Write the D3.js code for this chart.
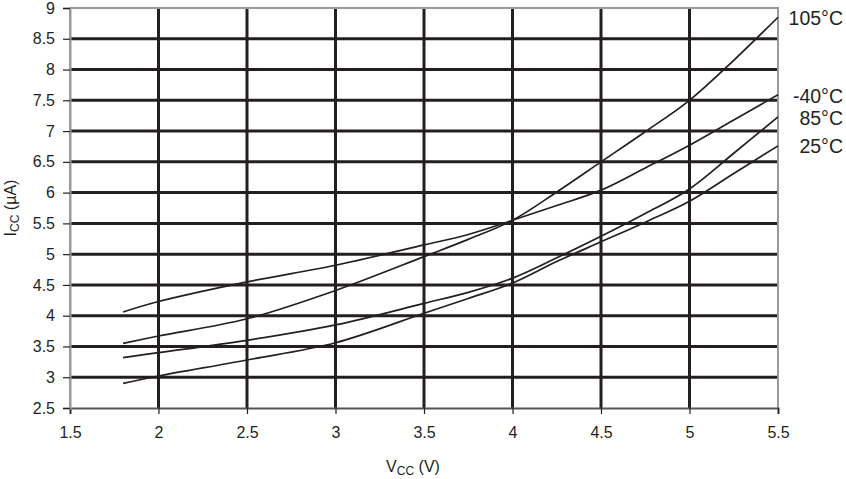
<!DOCTYPE html>
<html>
<head>
<meta charset="utf-8">
<script src="https://cdn.jsdelivr.net/npm/d3@7"></script>
<style>
  body { margin: 0; background: #fff; }
  text { font-family: "Liberation Sans", Arial, sans-serif; fill: #231f20; }
</style>
</head>
<body>
<script>
// supply voltage points (V)
const vcc = [1.8, 2, 2.5, 3, 3.5, 3.75, 4, 4.25, 4.5, 4.75, 5, 5.25, 5.5];

// supply current (uA) per temperature
const iccM40 = [4.06, 4.23, 4.55, 4.82, 5.15, 5.32, 5.55, 5.79, 6.04, 6.40, 6.77, 7.18, 7.59];
const icc105 = [3.55, 3.67, 3.95, 4.41, 4.96, 5.24, 5.55, 6.01, 6.50, 6.99, 7.50, 8.15, 8.85];
const icc85  = [3.32, 3.40, 3.60, 3.85, 4.20, 4.38, 4.61, 4.94, 5.29, 5.66, 6.06, 6.64, 7.23];
const icc25  = [2.90, 3.02, 3.28, 3.56, 4.04, 4.28, 4.53, 4.88, 5.20, 5.52, 5.86, 6.31, 6.76];

const seriesNames = ["105°C", "-40°C", "85°C", "25°C"];
const seriesValues = [icc105, iccM40, icc85, icc25];

const xTicks = [1.5, 2, 2.5, 3, 3.5, 4, 4.5, 5, 5.5];
const yTicks = [2.5, 3, 3.5, 4, 4.5, 5, 5.5, 6, 6.5, 7, 7.5, 8, 8.5, 9];

const width = 846, height = 479;
const margin = {left: 70, right: 68, top: 8, bottom: 71};

const svg = d3.select("body").append("svg")
  .attr("width", width)
  .attr("height", height);

const x = d3.scaleLinear().domain([1.5, 5.5]).range([margin.left, width - margin.right]);
const y = d3.scaleLinear().domain([2.5, 9]).range([height - margin.bottom, margin.top]);

const ink = "#231f20";

// grid
svg.append("g")
  .selectAll("line.h")
  .data(yTicks.filter(d => d > 2.5 && d < 9))
  .enter().append("line")
  .attr("x1", x(1.5)).attr("x2", x(5.5))
  .attr("y1", d => y(d)).attr("y2", d => y(d))
  .attr("stroke", ink).attr("stroke-width", 3);

svg.append("g")
  .selectAll("line.v")
  .data(xTicks.filter(d => d > 1.5 && d < 5.5))
  .enter().append("line")
  .attr("y1", y(2.5)).attr("y2", y(9))
  .attr("x1", d => x(d)).attr("x2", d => x(d))
  .attr("stroke", ink).attr("stroke-width", 3);

// frame (top, right, left in grey)
svg.append("path")
  .attr("d", `M${x(1.5)},${y(2.5)}V${y(9)}H${x(5.5)}V${y(2.5)}`)
  .attr("fill", "none")
  .attr("stroke", "#9a9a9a")
  .attr("stroke-width", 2);

// axes
const xAxis = svg.append("g")
  .attr("transform", `translate(0,${y(2.5)})`)
  .call(d3.axisBottom(x).tickValues(xTicks).tickFormat(d3.format("")).tickSize(6).tickPadding(13));
const yAxis = svg.append("g")
  .attr("transform", `translate(${x(1.5)},0)`)
  .call(d3.axisLeft(y).tickValues(yTicks).tickFormat(d3.format("")).tickSize(7).tickPadding(8));

[xAxis, yAxis].forEach(a => {
  a.selectAll("text").style("font-size", "16px").attr("fill", ink);
  a.selectAll(".tick line").attr("stroke", ink).attr("stroke-width", 1.2);
});
xAxis.select(".domain").attr("stroke", "#555").attr("stroke-width", 2);
yAxis.select(".domain").attr("stroke", "#9a9a9a").attr("stroke-width", 2);

// curves
const line = d3.line()
  .x((d, i) => x(vcc[i]))
  .y(d => y(d))
  .curve(d3.curveCatmullRom.alpha(0.5));

svg.append("g")
  .selectAll("path")
  .data(seriesValues)
  .enter().append("path")
  .attr("d", d => line(d))
  .attr("fill", "none")
  .attr("stroke", ink)
  .attr("stroke-width", 1.7);

// series labels
const labelY = [18, 96, 118, 146];
svg.append("g")
  .selectAll("text")
  .data(seriesNames)
  .enter().append("text")
  .attr("x", 843)
  .attr("y", (d, i) => labelY[i])
  .attr("dy", "0.35em")
  .attr("text-anchor", "end")
  .style("font-size", "19.5px")
  .text(d => d);

// axis titles
const xt = svg.append("text")
  .attr("x", 413).attr("y", 472)
  .attr("text-anchor", "middle")
  .style("font-size", "16px");
xt.append("tspan").text("V");
xt.append("tspan").attr("dy", 3).style("font-size", "12px").text("CC");
xt.append("tspan").attr("dy", -3).text(" (V)");

const yt = svg.append("text")
  .attr("transform", "translate(16,208) rotate(-90)")
  .attr("text-anchor", "middle")
  .style("font-size", "16px");
yt.append("tspan").text("I");
yt.append("tspan").attr("dy", 3).style("font-size", "12px").text("CC");
yt.append("tspan").attr("dy", -3).text(" (µA)");
</script>
</body>
</html>
